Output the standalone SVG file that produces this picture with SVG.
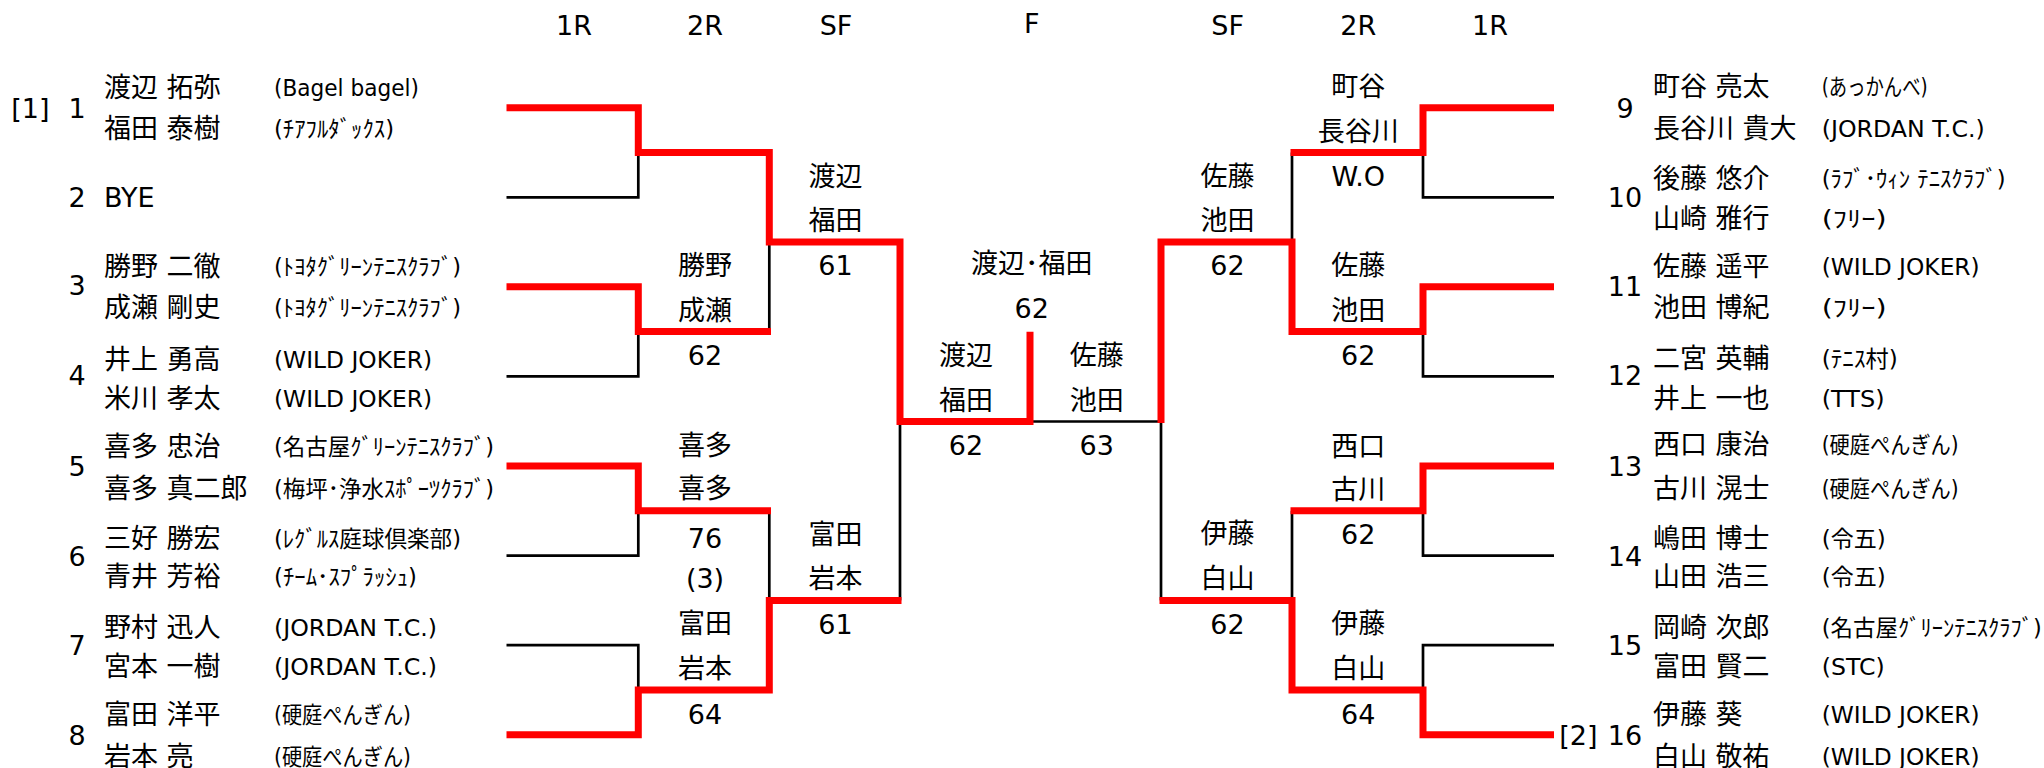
<svg xmlns="http://www.w3.org/2000/svg" width="2044" height="768" viewBox="0 0 2044 768">
<style>
text{font-family:"DejaVu Sans","Noto Sans CJK JP",sans-serif;font-size:27px;fill:#000}
.c{font-size:23px}
.m{text-anchor:middle}
.red{stroke:#FF0000;stroke-width:7;fill:none;stroke-linejoin:miter}
.blk{stroke:#000;stroke-width:2.7;fill:none}
</style>
<rect width="2044" height="768" fill="#fff"/>
<g id="headers" class="m">
<text class="m" x="574" y="35">1R</text>
<text class="m" x="705" y="35">2R</text>
<text class="m" x="836" y="35">SF</text>
<text class="m" x="1031.7" y="33">F</text>
<text class="m" x="1227.7" y="35">SF</text>
<text class="m" x="1358.3" y="35">2R</text>
<text class="m" x="1490" y="35">1R</text>
</g>
<g id="connectors">
<g class="blk">
<path d="M506.5,197.3 H638.3 V152.5"/>
<path d="M769.3,242 V331.6"/>
<path d="M506.5,376.4 H638.3 V331.6"/>
<path d="M506.5,555.6 H638.3 V510.8"/>
<path d="M769.3,510.8 V600.4"/>
<path d="M506.5,645.1 H638.3 V689.9"/>
<path d="M900,421.5 V600.4"/>
<path d="M1030,421.5 H1161"/>
<path d="M1554,197.3 H1423 V152.5"/>
<path d="M1292,152.5 V242"/>
<path d="M1554,376.4 H1423 V331.6"/>
<path d="M1554,555.6 H1423 V510.8"/>
<path d="M1292,510.8 V600.4"/>
<path d="M1554,645.1 H1423 V689.9"/>
<path d="M1161,421.5 V600.4"/>
</g>
<g class="red">
<path d="M506.5,107.7 H638.3 V152.5 H769.3 V242 H900 V421.5 H1030 V331.7"/>
<path d="M506.5,286.8 H638.3 V331.6 H771"/>
<path d="M506.5,466 H638.3 V510.8 H771"/>
<path d="M506.5,734.7 H638.3 V689.9 H769.3 V600.4 H901.5"/>
<path d="M1554,107.7 H1423 V152.5 H1290.5"/>
<path d="M1554,286.8 H1423 V331.6 H1292 V242 H1161 V423"/>
<path d="M1554,466 H1423 V510.8 H1290.5"/>
<path d="M1554,734.7 H1423 V689.9 H1292 V600.4 H1159.5"/>
</g>
</g>
<g id="e1">
<text x="30.3" y="117.5" class="m">[1]</text>
<text x="77" y="117.5" class="m">1</text>
<text x="104" y="96.7">渡辺 拓弥</text>
<text x="104" y="137.5">福田 泰樹</text>
<text class="c" x="274" y="95.7" textLength="145" lengthAdjust="spacingAndGlyphs">(Bagel bagel)</text>
<text class="c" x="274" y="136.5" textLength="120" lengthAdjust="spacingAndGlyphs">(ﾁｱﾌﾙﾀﾞｯｸｽ)</text>
</g>
<g id="e2">
<text x="77" y="206.7" class="m">2</text>
<text x="104" y="206.5">BYE</text>
</g>
<g id="e3">
<text x="77" y="295" class="m">3</text>
<text x="104" y="275.8">勝野 二徹</text>
<text x="104" y="316.7">成瀬 剛史</text>
<text class="c" x="274" y="274.8" textLength="187" lengthAdjust="spacingAndGlyphs">(ﾄﾖﾀｸﾞﾘｰﾝﾃﾆｽｸﾗﾌﾞ)</text>
<text class="c" x="274" y="315.7" textLength="187" lengthAdjust="spacingAndGlyphs">(ﾄﾖﾀｸﾞﾘｰﾝﾃﾆｽｸﾗﾌﾞ)</text>
</g>
<g id="e4">
<text x="77" y="385" class="m">4</text>
<text x="104" y="369">井上 勇高</text>
<text x="104" y="407.5">米川 孝太</text>
<text class="c" x="274" y="368" textLength="158" lengthAdjust="spacingAndGlyphs">(WILD JOKER)</text>
<text class="c" x="274" y="406.5" textLength="158" lengthAdjust="spacingAndGlyphs">(WILD JOKER)</text>
</g>
<g id="e5">
<text x="77" y="476" class="m">5</text>
<text x="104" y="456">喜多 忠治</text>
<text x="104" y="497.5">喜多 真二郎</text>
<text class="c" x="274" y="455" textLength="220" lengthAdjust="spacingAndGlyphs">(名古屋ｸﾞﾘｰﾝﾃﾆｽｸﾗﾌﾞ)</text>
<text class="c" x="274" y="496.5" textLength="220" lengthAdjust="spacingAndGlyphs">(梅坪･浄水ｽﾎﾟｰﾂｸﾗﾌﾞ)</text>
</g>
<g id="e6">
<text x="77" y="566" class="m">6</text>
<text x="104" y="548">三好 勝宏</text>
<text x="104" y="586">青井 芳裕</text>
<text class="c" x="274" y="547" textLength="187" lengthAdjust="spacingAndGlyphs">(ﾚｸﾞﾙｽ庭球倶楽部)</text>
<text class="c" x="274" y="585" textLength="143" lengthAdjust="spacingAndGlyphs">(ﾁｰﾑ･ｽﾌﾟﾗｯｼｭ)</text>
</g>
<g id="e7">
<text x="77" y="655" class="m">7</text>
<text x="104" y="637">野村 迅人</text>
<text x="104" y="676">宮本 一樹</text>
<text class="c" x="274" y="636" textLength="163" lengthAdjust="spacingAndGlyphs">(JORDAN T.C.)</text>
<text class="c" x="274" y="675" textLength="163" lengthAdjust="spacingAndGlyphs">(JORDAN T.C.)</text>
</g>
<g id="e8">
<text x="77" y="745" class="m">8</text>
<text x="104" y="724">富田 洋平</text>
<text x="104" y="766">岩本 亮</text>
<text class="c" x="274" y="723" textLength="137" lengthAdjust="spacingAndGlyphs">(硬庭ぺんぎん)</text>
<text class="c" x="274" y="765" textLength="137" lengthAdjust="spacingAndGlyphs">(硬庭ぺんぎん)</text>
</g>
<g id="e9">
<text x="1625" y="117.5" class="m">9</text>
<text x="1653" y="96">町谷 亮太</text>
<text x="1653" y="137.5">長谷川 貴大</text>
<text class="c" x="1821.7" y="95" textLength="106" lengthAdjust="spacingAndGlyphs">(あっかんべ)</text>
<text class="c" x="1821.7" y="136.5" textLength="163" lengthAdjust="spacingAndGlyphs">(JORDAN T.C.)</text>
</g>
<g id="e10">
<text x="1625" y="206.7" class="m">10</text>
<text x="1653" y="188">後藤 悠介</text>
<text x="1653" y="228">山崎 雅行</text>
<text class="c" x="1821.7" y="187" textLength="184" lengthAdjust="spacingAndGlyphs">(ﾗﾌﾞ･ｳｨﾝ ﾃﾆｽｸﾗﾌﾞ)</text>
<text class="c" x="1821.7" y="227" textLength="65" lengthAdjust="spacingAndGlyphs">(ﾌﾘｰ)</text>
</g>
<g id="e11">
<text x="1625" y="295.8" class="m">11</text>
<text x="1653" y="276">佐藤 遥平</text>
<text x="1653" y="316.7">池田 博紀</text>
<text class="c" x="1821.7" y="275" textLength="158" lengthAdjust="spacingAndGlyphs">(WILD JOKER)</text>
<text class="c" x="1821.7" y="315.7" textLength="65" lengthAdjust="spacingAndGlyphs">(ﾌﾘｰ)</text>
</g>
<g id="e12">
<text x="1625" y="385" class="m">12</text>
<text x="1653" y="367.5">二宮 英輔</text>
<text x="1653" y="407.5">井上 一也</text>
<text class="c" x="1821.7" y="366.5" textLength="76" lengthAdjust="spacingAndGlyphs">(ﾃﾆｽ村)</text>
<text class="c" x="1821.7" y="406.5" textLength="63" lengthAdjust="spacingAndGlyphs">(TTS)</text>
</g>
<g id="e13">
<text x="1625" y="475.8" class="m">13</text>
<text x="1653" y="454">西口 康治</text>
<text x="1653" y="497.5">古川 滉士</text>
<text class="c" x="1821.7" y="453" textLength="137" lengthAdjust="spacingAndGlyphs">(硬庭ぺんぎん)</text>
<text class="c" x="1821.7" y="496.5" textLength="137" lengthAdjust="spacingAndGlyphs">(硬庭ぺんぎん)</text>
</g>
<g id="e14">
<text x="1625" y="565.8" class="m">14</text>
<text x="1653" y="547.5">嶋田 博士</text>
<text x="1653" y="586">山田 浩三</text>
<text class="c" x="1821.7" y="546.5" textLength="64" lengthAdjust="spacingAndGlyphs">(令五)</text>
<text class="c" x="1821.7" y="585" textLength="64" lengthAdjust="spacingAndGlyphs">(令五)</text>
</g>
<g id="e15">
<text x="1625" y="655" class="m">15</text>
<text x="1653" y="636.7">岡崎 次郎</text>
<text x="1653" y="676">富田 賢二</text>
<text class="c" x="1821.7" y="635.7" textLength="220" lengthAdjust="spacingAndGlyphs">(名古屋ｸﾞﾘｰﾝﾃﾆｽｸﾗﾌﾞ)</text>
<text class="c" x="1821.7" y="675" textLength="63" lengthAdjust="spacingAndGlyphs">(STC)</text>
</g>
<g id="e16">
<text x="1578.3" y="745" class="m">[2]</text>
<text x="1625" y="745" class="m">16</text>
<text x="1653" y="724">伊藤 葵</text>
<text x="1653" y="766">白山 敬祐</text>
<text class="c" x="1821.7" y="723" textLength="158" lengthAdjust="spacingAndGlyphs">(WILD JOKER)</text>
<text class="c" x="1821.7" y="765" textLength="158" lengthAdjust="spacingAndGlyphs">(WILD JOKER)</text>
</g>
<g id="r1-left">
<text class="m" x="705" y="274.7">勝野</text>
<text class="m" x="705" y="319.5">成瀬</text>
<text class="m" x="705" y="365">62</text>
<text class="m" x="705" y="454.7">喜多</text>
<text class="m" x="705" y="498.3">喜多</text>
<text class="m" x="705" y="547.5">76</text>
<text class="m" x="705" y="587.5">(3)</text>
<text class="m" x="705" y="633.3">富田</text>
<text class="m" x="705" y="678.3">岩本</text>
<text class="m" x="705" y="724">64</text>
</g>
<g id="r2-left">
<text class="m" x="835.5" y="185.8">渡辺</text>
<text class="m" x="835.5" y="229.5">福田</text>
<text class="m" x="835.5" y="275">61</text>
<text class="m" x="835.5" y="544">富田</text>
<text class="m" x="835.5" y="588.3">岩本</text>
<text class="m" x="835.5" y="633.7">61</text>
</g>
<g id="sf-left">
<text class="m" x="966" y="364.7">渡辺</text>
<text class="m" x="966" y="409.5">福田</text>
<text class="m" x="966" y="455">62</text>
</g>
<g id="champion">
<text class="m" x="1031.7" y="273.3">渡辺･福田</text>
<text class="m" x="1031.7" y="318.3">62</text>
</g>
<g id="sf-right">
<text class="m" x="1096.7" y="364.7">佐藤</text>
<text class="m" x="1096.7" y="409.5">池田</text>
<text class="m" x="1096.7" y="455">63</text>
</g>
<g id="r2-right">
<text class="m" x="1227.5" y="186">佐藤</text>
<text class="m" x="1227.5" y="229.5">池田</text>
<text class="m" x="1227.5" y="275">62</text>
<text class="m" x="1227.5" y="543.3">伊藤</text>
<text class="m" x="1227.5" y="588.3">白山</text>
<text class="m" x="1227.5" y="633.7">62</text>
</g>
<g id="r1-right">
<text class="m" x="1358.3" y="96.2">町谷</text>
<text class="m" x="1358.3" y="141">長谷川</text>
<text class="m" x="1358.3" y="186">W.O</text>
<text class="m" x="1358.3" y="274.7">佐藤</text>
<text class="m" x="1358.3" y="319.5">池田</text>
<text class="m" x="1358.3" y="365">62</text>
<text class="m" x="1358.3" y="455.5">西口</text>
<text class="m" x="1358.3" y="499">古川</text>
<text class="m" x="1358.3" y="544">62</text>
<text class="m" x="1358.3" y="633.3">伊藤</text>
<text class="m" x="1358.3" y="678.3">白山</text>
<text class="m" x="1358.3" y="724">64</text>
</g>
</svg>
